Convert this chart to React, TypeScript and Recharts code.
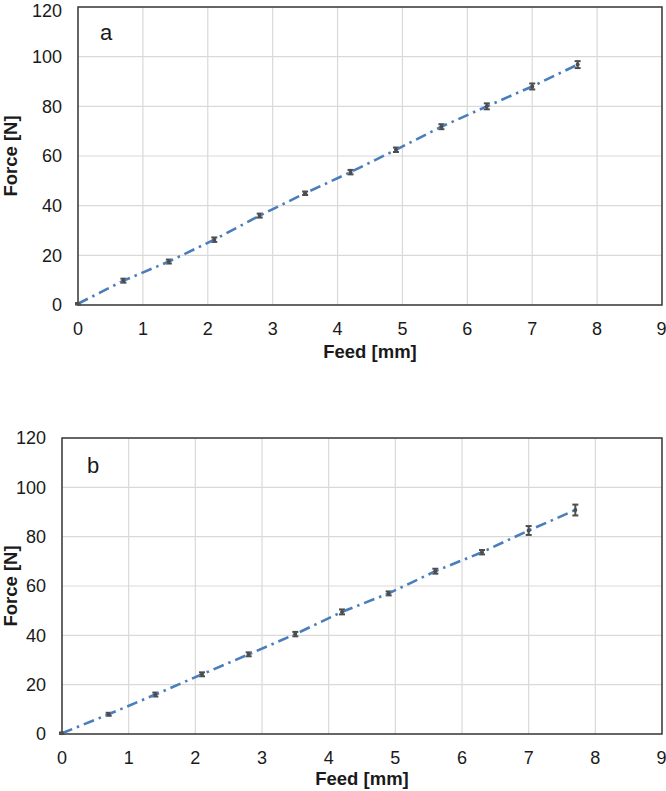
import {
  CartesianGrid,
  ComposedChart,
  ErrorBar,
  Line,
  ReferenceArea,
  XAxis,
  YAxis,
} from "recharts";

const feed = [0, 0.7, 1.4, 2.1, 2.8, 3.5, 4.2, 4.9, 5.6, 6.3, 7.0, 7.7];
const forceA = [0.5, 9.8, 17.5, 26.3, 36, 45, 53.5, 62.5, 71.8, 80, 88, 96.8];
const errA = [0.3, 0.8, 0.8, 0.9, 0.8, 0.7, 0.9, 0.9, 1.0, 1.2, 1.2, 1.4];
const forceB = [0.3, 8, 16, 24.2, 32.3, 40.5, 49.5, 57, 66, 73.7, 82.5, 90.8];
const errB = [0.3, 0.6, 0.8, 0.8, 0.8, 0.9, 1.0, 0.8, 1.0, 0.9, 1.8, 2.2];
const xTicks = [0, 1, 2, 3, 4, 5, 6, 7, 8, 9];
const yTicks = [0, 20, 40, 60, 80, 100, 120];

const FONT = "'Liberation Sans', Arial, sans-serif";
const LINE = "#4a7ebb";

function ForceChart({
  force,
  err,
  height,
  top,
  yWidth,
  xHeight,
  titleOffset,
}: {
  force: number[];
  err: number[];
  height: number;
  top: number;
  yWidth: number;
  xHeight: number;
  titleOffset: number;
}) {
  const data = feed.map((f, i) => ({ feed: f, force: force[i], err: err[i] }));
  const tick = { fontSize: 18, fill: "#1a1a1a", fontFamily: FONT };
  return (
    <ComposedChart
      width={666}
      height={height}
      data={data}
      margin={{ top, right: 4, bottom: 0, left: 0 }}
    >
      <CartesianGrid stroke="#d9d9d9" strokeWidth={1.2} />
      <XAxis
        dataKey="feed"
        type="number"
        domain={[0, 9]}
        ticks={xTicks}
        height={xHeight}
        axisLine={false}
        tickLine={false}
        tickSize={0}
        tickMargin={17}
        tick={tick}
        label={{
          value: "Feed [mm]",
          position: "insideBottom",
          offset: titleOffset,
          style: { fontSize: 18.5, fontWeight: "bold", fill: "#1a1a1a", fontFamily: FONT },
        }}
      />
      <YAxis
        type="number"
        domain={[0, 120]}
        ticks={yTicks}
        width={yWidth}
        axisLine={false}
        tickLine={false}
        tickSize={0}
        tickMargin={16}
        tick={tick}
        label={{
          value: "Force [N]",
          angle: -90,
          position: "insideLeft",
          offset: 10,
          style: {
            fontSize: 18.5,
            fontWeight: "bold",
            fill: "#1a1a1a",
            fontFamily: FONT,
            textAnchor: "middle",
          },
        }}
      />
      <ReferenceArea
        x1={0}
        x2={9}
        y1={0}
        y2={120}
        fill="none"
        stroke="#3a3a3a"
        strokeWidth={1.5}
        ifOverflow="visible"
      />
      <Line
        dataKey="force"
        stroke={LINE}
        strokeWidth={2.6}
        strokeDasharray="11 5 2.5 5"
        dot={{ r: 2, fill: "#4d4d4d", stroke: "none" }}
        isAnimationActive={false}
      >
        <ErrorBar dataKey="err" direction="y" width={3} strokeWidth={2} stroke="#4d4d4d" />
      </Line>
    </ComposedChart>
  );
}

export default function App() {
  const letter = { position: "absolute" as const, width: 30, textAlign: "center" as const, fontSize: 22, lineHeight: "22px", fontFamily: FONT, color: "#1a1a1a" };
  return (
    <div style={{ position: "absolute", left: 0, top: 0, width: 666, height: 791, background: "#fff" }}>
      <div style={{ position: "absolute", left: 0, top: 0 }}>
        <ForceChart force={forceA} err={errA} height={370} top={7} yWidth={78} xHeight={65} titleOffset={12} />
      </div>
      <div style={{ position: "absolute", left: 0, top: 400 }}>
        <ForceChart force={forceB} err={errB} height={391} top={38} yWidth={62} xHeight={57} titleOffset={6} />
      </div>
      <div style={{ ...letter, left: 91, top: 22 }}>a</div>
      <div style={{ ...letter, left: 78, top: 455 }}>b</div>
    </div>
  );
}
